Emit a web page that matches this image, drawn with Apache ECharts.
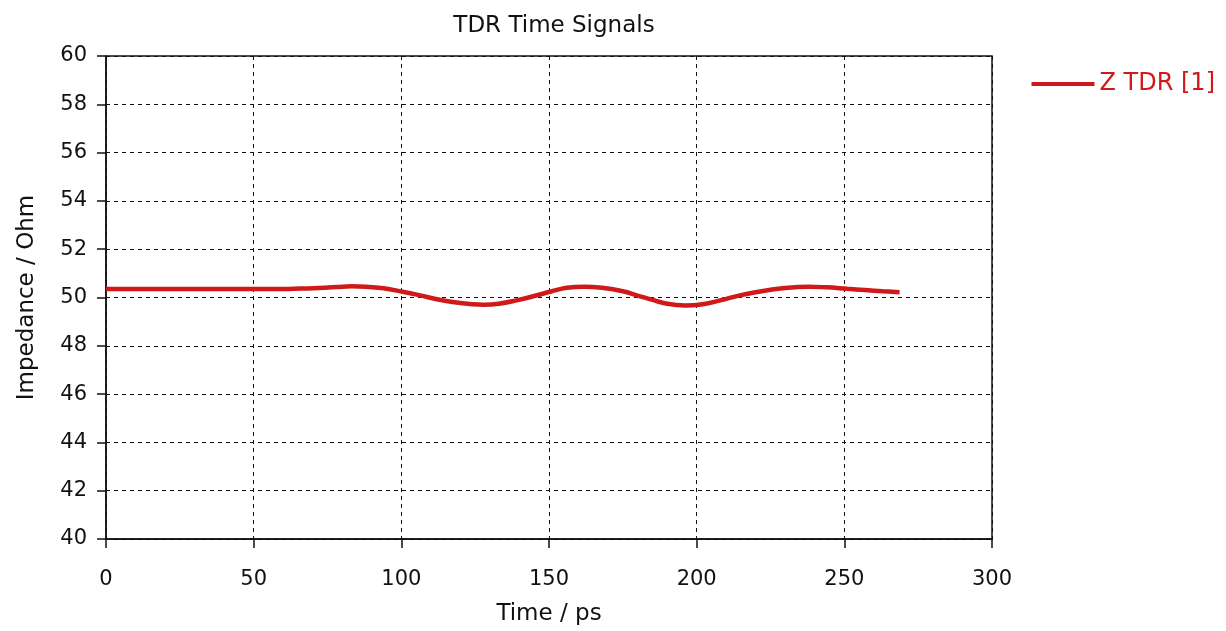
<!DOCTYPE html>
<html>
<head>
<meta charset="utf-8">
<script src="https://cdn.jsdelivr.net/npm/echarts@6/dist/echarts.min.js"></script>
<style>
  html, body { margin: 0; padding: 0; background: #fff; }
  #chart { width: 1226px; height: 631px; }
</style>
</head>
<body>
<div id="chart"></div>
<script>
// TDR impedance trace: time (ps) and impedance (Ohm)
const timePs = [0, 20, 40, 60, 66, 72, 78, 83, 88, 94, 100, 106, 112, 118, 124, 128, 133, 139, 145, 151, 156, 162, 168, 175, 180, 185, 190, 196, 202, 208, 215, 222, 229, 234, 238, 244, 251, 257, 263, 268.7];
const impedance = [50.35, 50.35, 50.35, 50.35, 50.37, 50.39, 50.43, 50.47, 50.45, 50.38, 50.25, 50.1, 49.93, 49.8, 49.72, 49.7, 49.74, 49.88, 50.06, 50.26, 50.4, 50.45, 50.4, 50.26, 50.08, 49.9, 49.74, 49.67, 49.72, 49.88, 50.1, 50.26, 50.38, 50.43, 50.45, 50.42, 50.36, 50.31, 50.26, 50.22];
const xTicks = { min: 0, max: 300, step: 50 };
const yTicks = { min: 40, max: 60, step: 2 };
const seriesName = 'Z TDR [1]';

const font = 'DejaVu Sans, Verdana, sans-serif';
const red = '#d01a1a';

const chart = echarts.init(document.getElementById('chart'), null, { renderer: 'canvas' });
chart.setOption({
  animation: false,
  backgroundColor: '#fff',
  title: {
    text: 'TDR Time Signals',
    left: 549, top: 10, textAlign: 'center',
    textStyle: { fontFamily: font, fontSize: 23, fontWeight: 'normal', color: '#111' }
  },
  legend: {
    data: [seriesName],
    right: 6, top: 67,
    itemWidth: 63, itemHeight: 4, itemGap: 12,
    icon: 'rect',
    textStyle: { fontFamily: font, fontSize: 24, color: red }
  },
  grid: {
    left: 106, right: 234, top: 56, bottom: 91,
    show: true, borderColor: '#111', borderWidth: 1.5
  },
  xAxis: {
    type: 'value',
    min: xTicks.min, max: xTicks.max, interval: xTicks.step,
    name: 'Time / ps', nameLocation: 'middle', nameGap: 64,
    nameTextStyle: { fontFamily: font, fontSize: 23, color: '#111' },
    axisLine: { show: true, lineStyle: { color: '#111', width: 1.5 } },
    axisTick: { show: true, length: 9, lineStyle: { color: '#111', width: 1.5 } },
    axisLabel: { fontFamily: font, fontSize: 21, color: '#111', margin: 30 },
    splitLine: { show: true, lineStyle: { color: '#111', type: [4, 4], width: 1 } }
  },
  yAxis: {
    type: 'value',
    min: yTicks.min, max: yTicks.max, interval: yTicks.step,
    name: 'Impedance / Ohm', nameLocation: 'middle', nameGap: 67,
    nameTextStyle: { fontFamily: font, fontSize: 23, color: '#111' },
    axisLine: { show: true, lineStyle: { color: '#111', width: 1.5 } },
    axisTick: { show: true, length: 9, lineStyle: { color: '#111', width: 1.5 } },
    axisLabel: { fontFamily: font, fontSize: 21, color: '#111', margin: 19 },
    splitLine: { show: true, lineStyle: { color: '#111', type: [4, 4], width: 1 } }
  },
  series: [{
    name: seriesName,
    type: 'line',
    data: timePs.map((t, i) => [t, impedance[i]]),
    smooth: 0.4,
    showSymbol: false,
    lineStyle: { color: red, width: 4.5 },
    itemStyle: { color: red }
  }]
});
</script>
</body>
</html>
